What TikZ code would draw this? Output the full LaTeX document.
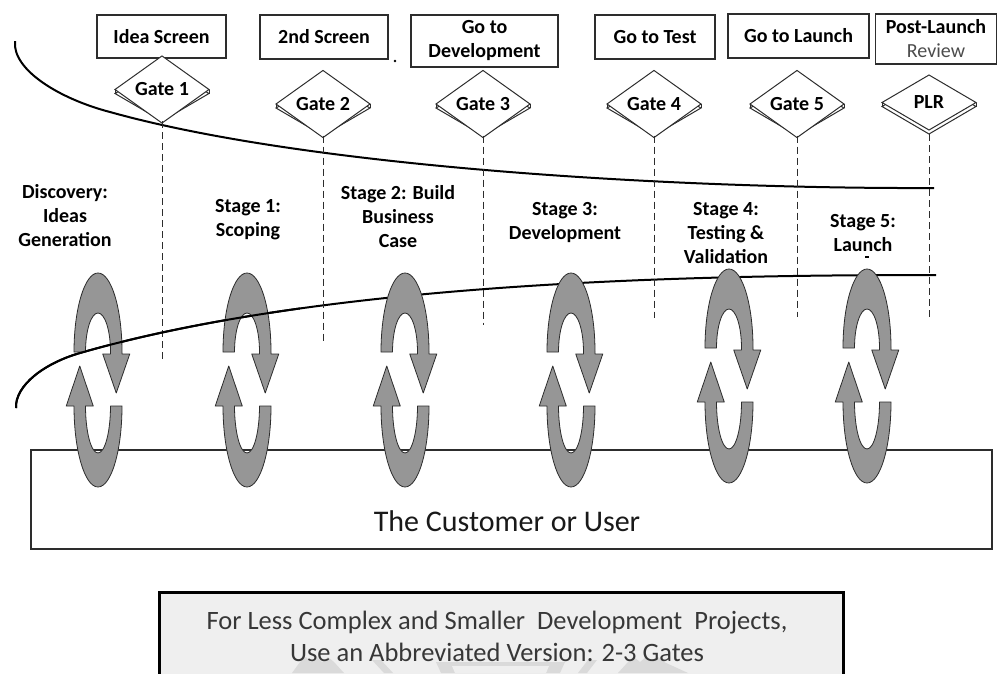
\documentclass[tikz,border=0pt]{standalone}
\usepackage{fontspec}
\setmainfont{Carlito}
\usetikzlibrary{shapes.geometric}
\definecolor{loopgray}{RGB}{150,150,150}
\definecolor{edgegray}{RGB}{45,45,45}
\definecolor{notefill}{RGB}{239,239,239}
\definecolor{notetext}{RGB}{55,55,55}
\definecolor{faint}{RGB}{218,218,218}
\begin{document}
\begin{tikzpicture}[x=1pt,y=-1pt,
  every node/.style={inner sep=0pt,outer sep=0pt},
  topbox/.style={draw=edgegray,line width=1.3pt,fill=white,align=center,
    font=\fontsize{20}{24}\selectfont\bfseries},
  gatebox/.style={diamond,draw=edgegray,line width=1pt,fill=white,
    minimum width=94pt,minimum height=55pt,
    font=\fontsize{20}{24}\selectfont\bfseries},
  gateshade/.style={diamond,draw=edgegray,line width=1pt,fill=white,
    minimum width=94pt,minimum height=55pt},
  gateline/.style={draw=edgegray,line width=0.9pt,dash pattern=on 7pt off 4pt},
  stagelabel/.style={align=center,font=\fontsize{20}{24}\selectfont\bfseries},
  band/.style={line width=2pt,black},
  loopshape/.style={fill=loopgray,draw=edgegray,line width=0.8pt,line join=round},
  pics/feedbackloop/.style={code={
    % upper arrow: arc over the top, head pointing down on the right
    \path[loopshape] (-24,79) .. controls (-24,35.4) and (-13.26,0) .. (0,0)
      .. controls (13.26,0) and (24,35.4) .. (24,79)
      -- (24,81) -- (31.75,81) -- (18.25,120) -- (4.75,81) -- (12.5,81) -- (12.5,79)
      .. controls (12.5,57.5) and (6.9,40) .. (0,40)
      .. controls (-6.9,40) and (-12.5,57.5) .. (-12.5,79) -- cycle;
    % lower arrow: arc under the bottom, head pointing up on the left
    \path[loopshape] (12.5,133) -- (24,133)
      .. controls (24,177.7) and (13.26,214) .. (0,214)
      .. controls (-13.26,214) and (-24,177.7) .. (-24,133)
      -- (-31.75,133) -- (-18.25,93) -- (-4.75,133) -- (-12.5,133)
      .. controls (-12.5,159) and (-6.9,180) .. (0,180)
      .. controls (6.9,180) and (12.5,159) .. (12.5,133) -- cycle;
  }}
]
\useasboundingbox (0,0) rectangle (998,673);
\clip (0,0) rectangle (998,673);
\fill[white] (0,0) rectangle (998,673);

% decision boxes along the top
\node[topbox,minimum width=129pt,minimum height=43pt] (b1) at (161.5,36.5) {Idea Screen};
\node[topbox,minimum width=128pt,minimum height=44pt] (b2) at (324,37) {2nd Screen};
\node[topbox,minimum width=147pt,minimum height=52pt] (b3) at (484.5,41) {Go to\\Development};
\node[topbox,minimum width=120pt,minimum height=44pt] (b4) at (655,37) {Go to Test};
\node[topbox,minimum width=141pt,minimum height=44pt] (b5) at (798.5,36) {Go to Launch};
\node[topbox,minimum width=121pt,minimum height=50pt,font=\fontsize{20}{24}\selectfont] (b6) at (936,39)
  {\bfseries Post-Launch\\{\color{black!70}Review}};
\fill (395,61) circle (1.3);

% funnel boundaries
\draw[band] (15,41) .. controls (12,70) and (60,99) .. (110,112)
  .. controls (310,168) and (680,189) .. (934,188);
\draw[band] (16,408) .. controls (15,385) and (45,363) .. (80,353)
  .. controls (330,281) and (700,275) .. (936,275);

% gates: a raised diamond over a shifted copy
\foreach \i/\gx/\gy/\txt in {1/162/89.5/Gate 1, 2/323/104/Gate 2, 3/483/104/Gate 3,
                             4/654/104/Gate 4, 5/797/104/Gate 5, 6/929/102.5/PLR} {
  \node[gateshade] (s\i) at (\gx,\gy+4) {};
  \node[gatebox] (g\i) at (\gx,\gy) {\txt};
  \draw[edgegray,line width=1pt] (g\i.west) -- (s\i.west) (g\i.east) -- (s\i.east);
}

% dashed gate boundaries
\coordinate (e1) at (162,360);
\coordinate (e2) at (323,343);
\coordinate (e3) at (483,325);
\coordinate (e4) at (654,318);
\coordinate (e5) at (797,317);
\coordinate (e6) at (929,317);
\foreach \i in {1,...,6} \draw[gateline] (s\i.south) -- (e\i);

% stage titles
\node[stagelabel] (t0) at (65,216) {Discovery:\\Ideas\\Generation};
\node[stagelabel] (t1) at (248,220) {Stage 1:\\Scoping};
\node[stagelabel] (t2) at (398,217) {Stage 2: Build\\Business\\Case};
\node[stagelabel] (t3) at (565,223) {Stage 3:\\Development};
\node[stagelabel] (t4) at (726,233) {Stage 4:\\Testing \&\\Validation};
\node[stagelabel] (t5) at (863,233) {Stage 5:\\Launch};
\draw[line width=1.2pt] (865,257) -- (869,257);

% customer box
\node[draw=edgegray,line width=1.2pt,fill=white,minimum width=961pt,minimum height=99pt]
  (cust) at (511.5,499.5) {};
\node[font=\fontsize{30}{34}\selectfont,text=black!90] (custtext) at (507,521.5) {The Customer or User};

% iteration loops
\foreach \cx/\ty in {98/273, 247/273, 405/273, 571/273, 729/269, 867/269}
  \pic at (\cx,\ty) {feedbackloop};

% the lower boundary passes over the first two loops
\begin{scope}
  \clip (0,0) rectangle (300,673);
  \draw[band] (16,408) .. controls (15,385) and (45,363) .. (80,353)
    .. controls (330,281) and (700,275) .. (936,275);
\end{scope}

% note box at the bottom
\node[draw=black,line width=3pt,fill=notefill,minimum width=684pt,minimum height=110pt,anchor=north]
  (note) at (501,592) {};
\fill[faint] (292,673) -- (300,662) -- (306,657) -- (311,662) -- (317,657) -- (322,662)
  -- (328,657) -- (334,662) -- (344,673) -- cycle;
\fill[faint] (372,660) -- (381,660) -- (393,673) -- (384,673) -- cycle;
\fill[faint] (436,662) -- (565,662) -- (560,673) -- (441,673) -- cycle;
\fill[notefill] (452,666) -- (549,666) -- (546,673) -- (455,673) -- cycle;
\fill[faint] (588,660) -- (597,660) -- (587,673) -- (578,673) -- cycle;
\fill[faint] (618,673) -- (628,662) -- (634,657) -- (640,662) -- (646,657) -- (652,662)
  -- (658,657) -- (664,662) -- (688,673) -- cycle;
\node[align=center,font=\fontsize{26.5}{32}\selectfont,text=notetext] (notetext) at (497,636)
  {For Less Complex and Smaller\ \ Development\ \ Projects,\\Use an Abbreviated Version: 2-3 Gates};
\end{tikzpicture}
\end{document}
